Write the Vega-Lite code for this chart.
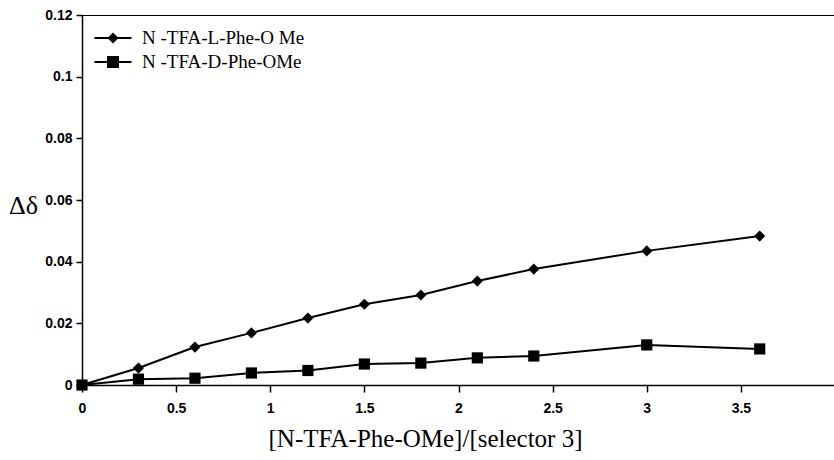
{
  "$schema": "https://vega.github.io/schema/vega-lite/v6.json",
  "width": 753,
  "height": 370,
  "autosize": {"type": "none"},
  "padding": {"left": 82, "top": 15, "right": 0, "bottom": 75},
  "background": "white",
  "config": {
    "view": {"stroke": "black", "strokeWidth": 1},
    "axis": {
      "domainColor": "black",
      "domainWidth": 1.5,
      "tickColor": "black",
      "tickWidth": 1.5,
      "labelFont": "Liberation Sans",
      "labelFontSize": 14,
      "labelFontWeight": "bold",
      "labelColor": "black",
      "labelFlush": false,
      "labelOverlap": false,
      "grid": false,
      "titleFont": "Liberation Serif",
      "titleColor": "black",
      "titleFontWeight": "normal"
    }
  },
  "data": {
    "values": [
      {"series": "L", "ratio": 0, "dd": 0},
      {"series": "L", "ratio": 0.3, "dd": 0.0055},
      {"series": "L", "ratio": 0.6, "dd": 0.0123},
      {"series": "L", "ratio": 0.9, "dd": 0.0169},
      {"series": "L", "ratio": 1.2, "dd": 0.0217},
      {"series": "L", "ratio": 1.5, "dd": 0.0262},
      {"series": "L", "ratio": 1.8, "dd": 0.0292},
      {"series": "L", "ratio": 2.1, "dd": 0.0337},
      {"series": "L", "ratio": 2.4, "dd": 0.0376},
      {"series": "L", "ratio": 3.0, "dd": 0.0435},
      {"series": "L", "ratio": 3.6, "dd": 0.0483},
      {"series": "D", "ratio": 0, "dd": 0},
      {"series": "D", "ratio": 0.3, "dd": 0.0019},
      {"series": "D", "ratio": 0.6, "dd": 0.0022},
      {"series": "D", "ratio": 0.9, "dd": 0.0039},
      {"series": "D", "ratio": 1.2, "dd": 0.0047},
      {"series": "D", "ratio": 1.5, "dd": 0.0068},
      {"series": "D", "ratio": 1.8, "dd": 0.0071},
      {"series": "D", "ratio": 2.1, "dd": 0.0088},
      {"series": "D", "ratio": 2.4, "dd": 0.0094},
      {"series": "D", "ratio": 3.0, "dd": 0.0130},
      {"series": "D", "ratio": 3.6, "dd": 0.0117}
    ]
  },
  "encoding": {
    "x": {
      "field": "ratio",
      "type": "quantitative",
      "scale": {"domain": [0, 4], "nice": false},
      "axis": {
        "values": [0, 0.5, 1, 1.5, 2, 2.5, 3, 3.5],
        "format": "~g",
        "tickSize": 7,
        "labelPadding": 9,
        "title": "[N-TFA-Phe-OMe]/[selector 3]",
        "titleFontSize": 25,
        "titleX": 343,
        "titleY": 61,
        "titleAlign": "center",
        "titleBaseline": "alphabetic",
        "encode": {"ticks": {"update": {"y": {"value": -5}, "y2": {"value": 7}}}}
      }
    },
    "y": {
      "field": "dd",
      "type": "quantitative",
      "scale": {"domain": [0, 0.12], "nice": false},
      "axis": {
        "values": [0, 0.02, 0.04, 0.06, 0.08, 0.1, 0.12],
        "format": ".2~f",
        "tickSize": 6,
        "labelPadding": 4,
        "title": "Δδ",
        "titleAngle": 0,
        "titleFontSize": 26,
        "titleX": -59,
        "titleY": 198,
        "titleAlign": "center",
        "titleBaseline": "alphabetic",
        "encode": {"ticks": {"update": {"x": {"value": -6}, "x2": {"value": 6}}}}
      }
    }
  },
  "layer": [
    {
      "mark": {"type": "line", "color": "black", "strokeWidth": 2},
      "encoding": {"detail": {"field": "series", "type": "nominal"}}
    },
    {
      "mark": {"type": "point", "filled": true, "color": "black", "opacity": 1, "size": 125},
      "encoding": {
        "shape": {
          "field": "series",
          "type": "nominal",
          "scale": {"domain": ["L", "D"], "range": ["diamond", "square"]},
          "legend": null
        }
      }
    },
    {
      "transform": [{"filter": "false"}],
      "mark": {"type": "point", "filled": true, "color": "black", "opacity": 1},
      "encoding": {
        "shape": {
          "field": "series",
          "type": "nominal",
          "scale": {
            "domain": ["L", "D"],
            "range": ["M-1.85,-0.1H1.85V0.1H-1.85ZM0,-0.55L0.55,0L0,0.55L-0.55,0Z", "M-1.85,-0.1H1.85V0.1H-1.85ZM-0.6,-0.6H0.6V0.6H-0.6Z"]
          },
          "legend": {
            "title": null,
            "orient": "none",
            "legendX": 21,
            "legendY": 13,
            "padding": 0,
            "labelExpr": "datum.value == 'L' ? 'N -TFA-L-Phe-O Me' : '\u00a0N -TFA-D-Phe-OMe'",
            "labelFont": "Liberation Serif",
            "labelFontSize": 19,
            "labelColor": "black",
            "labelLimit": 400,
            "labelOffset": 19,
            "symbolSize": 400,
            "symbolFillColor": "black",
            "symbolStrokeColor": "black",
            "symbolStrokeWidth": 0,
            "symbolOpacity": 1,
            "rowPadding": 4
          }
        }
      }
    }
  ],
  "resolve": {"scale": {"shape": "independent"}, "legend": {"shape": "independent"}}
}
